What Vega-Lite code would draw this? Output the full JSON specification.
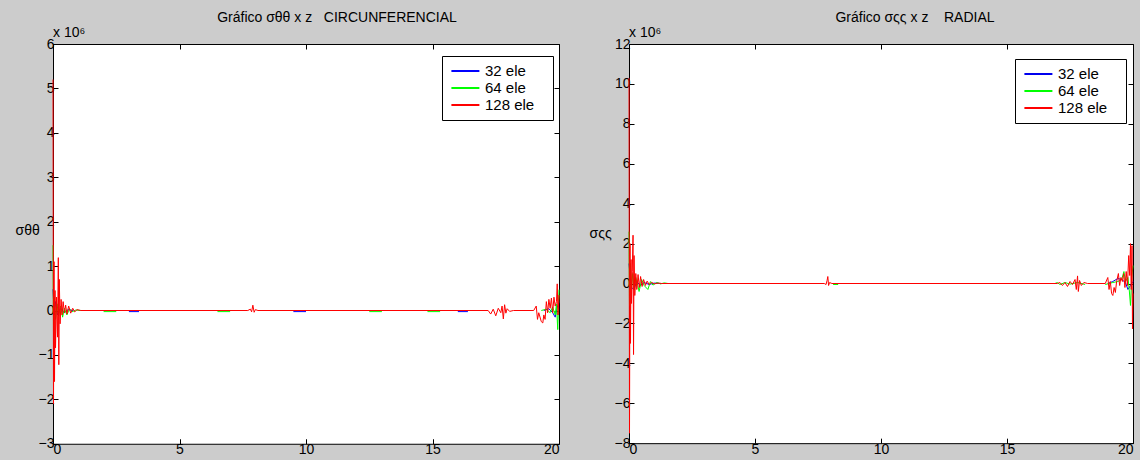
{
  "$schema": "https://vega.github.io/schema/vega-lite/v6.json",
  "background": "#cccccc",
  "padding": {"left": 14, "top": 10, "right": 4, "bottom": 2},
  "bounds": "flush",
  "spacing": 70,
  "config": {
    "view": {"fill": "white", "stroke": "black", "strokeWidth": 1},
    "font": "Liberation Sans",
    "axis": {"grid": false, "domain": false, "tickColor": "black", "tickSize": -5, "labelColor": "black", "labelFontSize": 14, "labelFont": "Liberation Sans", "titleFont": "Liberation Sans", "titleFontWeight": "normal", "titleColor": "black", "labelPadding": 4},
    "title": {"font": "Liberation Sans", "fontSize": 14, "fontWeight": "normal", "color": "black", "offset": 1},
    "legend": {"symbolType": "M-0.8,0H3.2", "symbolSize": 196, "symbolStrokeWidth": 2, "labelFont": "Liberation Sans", "labelFontSize": 15, "labelColor": "black", "labelOffset": 20, "rowPadding": 1, "padding": 7, "strokeColor": "black", "fillColor": "white", "title": null}
  },
  "datasets": {
    "circ": [
      {"z": 0, "s": 0.48, "serie": "32 ele", "seg": "a"}, {"z": 0.05, "s": -0.1, "serie": "32 ele", "seg": "a"}, {"z": 0.1, "s": 0.2, "serie": "32 ele", "seg": "a"}, {"z": 0.18, "s": -0.1, "serie": "32 ele", "seg": "a"}, {"z": 0.3, "s": 0.05, "serie": "32 ele", "seg": "a"}, {"z": 0.45, "s": -0.05, "serie": "32 ele", "seg": "a"}, {"z": 0.6, "s": 0.02, "serie": "32 ele", "seg": "a"}, {"z": 0.8, "s": 0, "serie": "32 ele", "seg": "a"},
      {"z": 3.0, "s": -0.025, "serie": "32 ele", "seg": "c"}, {"z": 3.4, "s": -0.025, "serie": "32 ele", "seg": "c"},
      {"z": 9.5, "s": -0.025, "serie": "32 ele", "seg": "d"}, {"z": 10.0, "s": -0.025, "serie": "32 ele", "seg": "d"},
      {"z": 16.0, "s": -0.025, "serie": "32 ele", "seg": "e"}, {"z": 16.4, "s": -0.025, "serie": "32 ele", "seg": "e"},
      {"z": 19.4, "s": 0, "serie": "32 ele", "seg": "b"}, {"z": 19.6, "s": 0.04, "serie": "32 ele", "seg": "b"}, {"z": 19.75, "s": -0.05, "serie": "32 ele", "seg": "b"}, {"z": 19.85, "s": -0.15, "serie": "32 ele", "seg": "b"}, {"z": 19.92, "s": 0.05, "serie": "32 ele", "seg": "b"}, {"z": 20, "s": 0.2, "serie": "32 ele", "seg": "b"},
      {"z": 0, "s": 1.47, "serie": "64 ele", "seg": "a"}, {"z": 0.02, "s": -0.5, "serie": "64 ele", "seg": "a"}, {"z": 0.05, "s": 0.3, "serie": "64 ele", "seg": "a"}, {"z": 0.1, "s": -0.2, "serie": "64 ele", "seg": "a"}, {"z": 0.16, "s": 0.15, "serie": "64 ele", "seg": "a"}, {"z": 0.22, "s": -0.12, "serie": "64 ele", "seg": "a"}, {"z": 0.3, "s": 0.1, "serie": "64 ele", "seg": "a"}, {"z": 0.38, "s": -0.15, "serie": "64 ele", "seg": "a"}, {"z": 0.45, "s": 0.05, "serie": "64 ele", "seg": "a"}, {"z": 0.55, "s": -0.1, "serie": "64 ele", "seg": "a"}, {"z": 0.65, "s": 0.04, "serie": "64 ele", "seg": "a"}, {"z": 0.75, "s": -0.03, "serie": "64 ele", "seg": "a"}, {"z": 0.9, "s": 0.01, "serie": "64 ele", "seg": "a"}, {"z": 1.1, "s": 0, "serie": "64 ele", "seg": "a"},
      {"z": 2.0, "s": -0.025, "serie": "64 ele", "seg": "c"}, {"z": 2.5, "s": -0.025, "serie": "64 ele", "seg": "c"},
      {"z": 6.5, "s": -0.025, "serie": "64 ele", "seg": "d"}, {"z": 7.0, "s": -0.025, "serie": "64 ele", "seg": "d"},
      {"z": 12.5, "s": -0.025, "serie": "64 ele", "seg": "e"}, {"z": 13.0, "s": -0.025, "serie": "64 ele", "seg": "e"},
      {"z": 14.8, "s": -0.025, "serie": "64 ele", "seg": "f"}, {"z": 15.3, "s": -0.025, "serie": "64 ele", "seg": "f"},
      {"z": 19.3, "s": 0, "serie": "64 ele", "seg": "b"}, {"z": 19.5, "s": 0.03, "serie": "64 ele", "seg": "b"}, {"z": 19.65, "s": -0.05, "serie": "64 ele", "seg": "b"}, {"z": 19.75, "s": 0.08, "serie": "64 ele", "seg": "b"}, {"z": 19.85, "s": -0.1, "serie": "64 ele", "seg": "b"}, {"z": 19.9, "s": 0.15, "serie": "64 ele", "seg": "b"}, {"z": 19.95, "s": -0.43, "serie": "64 ele", "seg": "b"}, {"z": 20, "s": 0.47, "serie": "64 ele", "seg": "b"},
      {"z": 0, "s": 5.2, "serie": "128 ele", "seg": "a"}, {"z": 0.02, "s": -2.1, "serie": "128 ele", "seg": "a"}, {"z": 0.04, "s": 1.1, "serie": "128 ele", "seg": "a"}, {"z": 0.06, "s": -1.6, "serie": "128 ele", "seg": "a"}, {"z": 0.08, "s": 0.45, "serie": "128 ele", "seg": "a"}, {"z": 0.1, "s": -0.84, "serie": "128 ele", "seg": "a"}, {"z": 0.14, "s": 0.3, "serie": "128 ele", "seg": "a"}, {"z": 0.18, "s": -0.6, "serie": "128 ele", "seg": "a"}, {"z": 0.21, "s": 1.19, "serie": "128 ele", "seg": "a"}, {"z": 0.23, "s": -1.22, "serie": "128 ele", "seg": "a"}, {"z": 0.25, "s": 0.7, "serie": "128 ele", "seg": "a"}, {"z": 0.28, "s": -0.3, "serie": "128 ele", "seg": "a"}, {"z": 0.32, "s": 0.25, "serie": "128 ele", "seg": "a"}, {"z": 0.36, "s": -0.1, "serie": "128 ele", "seg": "a"}, {"z": 0.4, "s": 0.2, "serie": "128 ele", "seg": "a"}, {"z": 0.45, "s": -0.05, "serie": "128 ele", "seg": "a"}, {"z": 0.5, "s": 0.12, "serie": "128 ele", "seg": "a"}, {"z": 0.55, "s": -0.08, "serie": "128 ele", "seg": "a"}, {"z": 0.62, "s": 0.1, "serie": "128 ele", "seg": "a"}, {"z": 0.7, "s": -0.06, "serie": "128 ele", "seg": "a"}, {"z": 0.78, "s": 0.05, "serie": "128 ele", "seg": "a"}, {"z": 0.86, "s": -0.03, "serie": "128 ele", "seg": "a"}, {"z": 0.95, "s": 0.02, "serie": "128 ele", "seg": "a"}, {"z": 1.1, "s": 0, "serie": "128 ele", "seg": "a"}, {"z": 7.7, "s": 0, "serie": "128 ele", "seg": "a"}, {"z": 7.8, "s": 0.03, "serie": "128 ele", "seg": "a"}, {"z": 7.85, "s": -0.03, "serie": "128 ele", "seg": "a"}, {"z": 7.9, "s": 0.12, "serie": "128 ele", "seg": "a"}, {"z": 7.95, "s": -0.04, "serie": "128 ele", "seg": "a"}, {"z": 8.0, "s": 0.02, "serie": "128 ele", "seg": "a"}, {"z": 8.1, "s": 0, "serie": "128 ele", "seg": "a"}, {"z": 17.2, "s": 0, "serie": "128 ele", "seg": "a"}, {"z": 17.3, "s": -0.08, "serie": "128 ele", "seg": "a"}, {"z": 17.4, "s": 0.03, "serie": "128 ele", "seg": "a"}, {"z": 17.5, "s": -0.12, "serie": "128 ele", "seg": "a"}, {"z": 17.6, "s": 0.05, "serie": "128 ele", "seg": "a"}, {"z": 17.7, "s": -0.05, "serie": "128 ele", "seg": "a"}, {"z": 17.75, "s": 0.1, "serie": "128 ele", "seg": "a"}, {"z": 17.8, "s": -0.19, "serie": "128 ele", "seg": "a"}, {"z": 17.85, "s": 0.13, "serie": "128 ele", "seg": "a"}, {"z": 17.9, "s": -0.06, "serie": "128 ele", "seg": "a"}, {"z": 17.95, "s": 0.04, "serie": "128 ele", "seg": "a"}, {"z": 18.05, "s": -0.02, "serie": "128 ele", "seg": "a"}, {"z": 18.2, "s": 0, "serie": "128 ele", "seg": "a"}, {"z": 19.0, "s": 0, "serie": "128 ele", "seg": "a"}, {"z": 19.1, "s": 0.1, "serie": "128 ele", "seg": "a"}, {"z": 19.15, "s": -0.2, "serie": "128 ele", "seg": "a"}, {"z": 19.2, "s": -0.05, "serie": "128 ele", "seg": "a"}, {"z": 19.3, "s": -0.25, "serie": "128 ele", "seg": "a"}, {"z": 19.36, "s": -0.28, "serie": "128 ele", "seg": "a"}, {"z": 19.4, "s": -0.1, "serie": "128 ele", "seg": "a"}, {"z": 19.45, "s": -0.2, "serie": "128 ele", "seg": "a"}, {"z": 19.5, "s": 0.2, "serie": "128 ele", "seg": "a"}, {"z": 19.55, "s": -0.05, "serie": "128 ele", "seg": "a"}, {"z": 19.6, "s": 0.25, "serie": "128 ele", "seg": "a"}, {"z": 19.65, "s": 0.05, "serie": "128 ele", "seg": "a"}, {"z": 19.7, "s": 0.28, "serie": "128 ele", "seg": "a"}, {"z": 19.75, "s": -0.05, "serie": "128 ele", "seg": "a"}, {"z": 19.8, "s": 0.3, "serie": "128 ele", "seg": "a"}, {"z": 19.85, "s": 0.1, "serie": "128 ele", "seg": "a"}, {"z": 19.9, "s": 0.2, "serie": "128 ele", "seg": "a"}, {"z": 19.93, "s": 0.6, "serie": "128 ele", "seg": "a"}, {"z": 19.96, "s": -0.1, "serie": "128 ele", "seg": "a"}, {"z": 20, "s": 0.35, "serie": "128 ele", "seg": "a"}
    ],
    "rad": [
      {"z": 0, "s": 1.0, "serie": "32 ele", "seg": "a"}, {"z": 0.05, "s": 0.3, "serie": "32 ele", "seg": "a"}, {"z": 0.1, "s": -0.2, "serie": "32 ele", "seg": "a"}, {"z": 0.2, "s": -0.3, "serie": "32 ele", "seg": "a"}, {"z": 0.3, "s": 0.1, "serie": "32 ele", "seg": "a"}, {"z": 0.45, "s": -0.1, "serie": "32 ele", "seg": "a"}, {"z": 0.6, "s": 0.05, "serie": "32 ele", "seg": "a"}, {"z": 0.8, "s": -0.05, "serie": "32 ele", "seg": "a"}, {"z": 1.0, "s": 0.02, "serie": "32 ele", "seg": "a"}, {"z": 1.3, "s": 0, "serie": "32 ele", "seg": "a"},
      {"z": 19.0, "s": 0, "serie": "32 ele", "seg": "b"}, {"z": 19.2, "s": 0.1, "serie": "32 ele", "seg": "b"}, {"z": 19.4, "s": 0.25, "serie": "32 ele", "seg": "b"}, {"z": 19.55, "s": 0.2, "serie": "32 ele", "seg": "b"}, {"z": 19.7, "s": 0.05, "serie": "32 ele", "seg": "b"}, {"z": 19.8, "s": -0.3, "serie": "32 ele", "seg": "b"}, {"z": 19.9, "s": -0.1, "serie": "32 ele", "seg": "b"}, {"z": 20, "s": 0.1, "serie": "32 ele", "seg": "b"},
      {"z": 0, "s": 2.6, "serie": "64 ele", "seg": "a"}, {"z": 0.02, "s": -1.1, "serie": "64 ele", "seg": "a"}, {"z": 0.05, "s": 1.0, "serie": "64 ele", "seg": "a"}, {"z": 0.1, "s": -0.2, "serie": "64 ele", "seg": "a"}, {"z": 0.15, "s": 0.5, "serie": "64 ele", "seg": "a"}, {"z": 0.2, "s": -0.3, "serie": "64 ele", "seg": "a"}, {"z": 0.27, "s": 0.3, "serie": "64 ele", "seg": "a"}, {"z": 0.35, "s": -0.1, "serie": "64 ele", "seg": "a"}, {"z": 0.4, "s": -0.4, "serie": "64 ele", "seg": "a"}, {"z": 0.5, "s": 0.2, "serie": "64 ele", "seg": "a"}, {"z": 0.6, "s": -0.1, "serie": "64 ele", "seg": "a"}, {"z": 0.75, "s": -0.3, "serie": "64 ele", "seg": "a"}, {"z": 0.85, "s": 0.1, "serie": "64 ele", "seg": "a"}, {"z": 0.95, "s": -0.08, "serie": "64 ele", "seg": "a"}, {"z": 1.1, "s": 0.05, "serie": "64 ele", "seg": "a"}, {"z": 1.25, "s": -0.02, "serie": "64 ele", "seg": "a"}, {"z": 1.4, "s": 0.03, "serie": "64 ele", "seg": "a"}, {"z": 1.55, "s": 0, "serie": "64 ele", "seg": "a"},
      {"z": 8.1, "s": -0.05, "serie": "64 ele", "seg": "d"}, {"z": 8.3, "s": -0.05, "serie": "64 ele", "seg": "d"},
      {"z": 16.9, "s": 0, "serie": "64 ele", "seg": "b"}, {"z": 17.0, "s": 0.05, "serie": "64 ele", "seg": "b"}, {"z": 17.1, "s": -0.05, "serie": "64 ele", "seg": "b"}, {"z": 17.3, "s": 0.05, "serie": "64 ele", "seg": "b"}, {"z": 17.5, "s": -0.03, "serie": "64 ele", "seg": "b"}, {"z": 17.8, "s": 0.05, "serie": "64 ele", "seg": "b"}, {"z": 18.1, "s": -0.05, "serie": "64 ele", "seg": "b"},
      {"z": 18.9, "s": -0.05, "serie": "64 ele", "seg": "c"}, {"z": 19.2, "s": 0.05, "serie": "64 ele", "seg": "c"}, {"z": 19.4, "s": 0.1, "serie": "64 ele", "seg": "c"}, {"z": 19.55, "s": 0.2, "serie": "64 ele", "seg": "c"}, {"z": 19.64, "s": 0.6, "serie": "64 ele", "seg": "c"}, {"z": 19.7, "s": 0.1, "serie": "64 ele", "seg": "c"}, {"z": 19.8, "s": 0.3, "serie": "64 ele", "seg": "c"}, {"z": 19.85, "s": -0.3, "serie": "64 ele", "seg": "c"}, {"z": 19.9, "s": -1.1, "serie": "64 ele", "seg": "c"}, {"z": 19.95, "s": 0.3, "serie": "64 ele", "seg": "c"}, {"z": 20, "s": 0.9, "serie": "64 ele", "seg": "c"},
      {"z": 0, "s": 10.3, "serie": "128 ele", "seg": "a"}, {"z": 0.02, "s": -7.5, "serie": "128 ele", "seg": "a"}, {"z": 0.04, "s": 2.0, "serie": "128 ele", "seg": "a"}, {"z": 0.06, "s": -3.0, "serie": "128 ele", "seg": "a"}, {"z": 0.08, "s": 1.2, "serie": "128 ele", "seg": "a"}, {"z": 0.1, "s": -1.0, "serie": "128 ele", "seg": "a"}, {"z": 0.13, "s": 0.6, "serie": "128 ele", "seg": "a"}, {"z": 0.16, "s": 2.42, "serie": "128 ele", "seg": "a"}, {"z": 0.18, "s": -3.56, "serie": "128 ele", "seg": "a"}, {"z": 0.2, "s": 1.4, "serie": "128 ele", "seg": "a"}, {"z": 0.23, "s": -0.6, "serie": "128 ele", "seg": "a"}, {"z": 0.27, "s": 0.5, "serie": "128 ele", "seg": "a"}, {"z": 0.31, "s": -0.3, "serie": "128 ele", "seg": "a"}, {"z": 0.36, "s": 0.45, "serie": "128 ele", "seg": "a"}, {"z": 0.41, "s": -0.2, "serie": "128 ele", "seg": "a"}, {"z": 0.46, "s": 0.35, "serie": "128 ele", "seg": "a"}, {"z": 0.52, "s": -0.15, "serie": "128 ele", "seg": "a"}, {"z": 0.58, "s": 0.2, "serie": "128 ele", "seg": "a"}, {"z": 0.65, "s": -0.1, "serie": "128 ele", "seg": "a"}, {"z": 0.72, "s": 0.12, "serie": "128 ele", "seg": "a"}, {"z": 0.8, "s": -0.05, "serie": "128 ele", "seg": "a"}, {"z": 0.9, "s": 0.06, "serie": "128 ele", "seg": "a"}, {"z": 1.0, "s": -0.02, "serie": "128 ele", "seg": "a"}, {"z": 1.15, "s": 0.02, "serie": "128 ele", "seg": "a"}, {"z": 1.3, "s": 0, "serie": "128 ele", "seg": "a"}, {"z": 7.75, "s": 0, "serie": "128 ele", "seg": "a"}, {"z": 7.82, "s": -0.05, "serie": "128 ele", "seg": "a"}, {"z": 7.86, "s": 0.15, "serie": "128 ele", "seg": "a"}, {"z": 7.89, "s": 0.35, "serie": "128 ele", "seg": "a"}, {"z": 7.92, "s": -0.1, "serie": "128 ele", "seg": "a"}, {"z": 7.96, "s": 0.05, "serie": "128 ele", "seg": "a"}, {"z": 8.05, "s": 0, "serie": "128 ele", "seg": "a"}, {"z": 17.0, "s": 0, "serie": "128 ele", "seg": "a"}, {"z": 17.1, "s": 0.05, "serie": "128 ele", "seg": "a"}, {"z": 17.2, "s": -0.1, "serie": "128 ele", "seg": "a"}, {"z": 17.3, "s": 0.05, "serie": "128 ele", "seg": "a"}, {"z": 17.4, "s": -0.15, "serie": "128 ele", "seg": "a"}, {"z": 17.5, "s": 0.1, "serie": "128 ele", "seg": "a"}, {"z": 17.6, "s": -0.05, "serie": "128 ele", "seg": "a"}, {"z": 17.7, "s": 0.2, "serie": "128 ele", "seg": "a"}, {"z": 17.75, "s": -0.3, "serie": "128 ele", "seg": "a"}, {"z": 17.8, "s": 0.38, "serie": "128 ele", "seg": "a"}, {"z": 17.83, "s": -0.4, "serie": "128 ele", "seg": "a"}, {"z": 17.88, "s": 0.15, "serie": "128 ele", "seg": "a"}, {"z": 17.95, "s": -0.1, "serie": "128 ele", "seg": "a"}, {"z": 18.05, "s": 0.05, "serie": "128 ele", "seg": "a"}, {"z": 18.2, "s": 0, "serie": "128 ele", "seg": "a"}, {"z": 18.9, "s": 0, "serie": "128 ele", "seg": "a"}, {"z": 19.0, "s": 0.3, "serie": "128 ele", "seg": "a"}, {"z": 19.05, "s": -0.3, "serie": "128 ele", "seg": "a"}, {"z": 19.1, "s": 0.1, "serie": "128 ele", "seg": "a"}, {"z": 19.15, "s": -0.5, "serie": "128 ele", "seg": "a"}, {"z": 19.2, "s": -0.6, "serie": "128 ele", "seg": "a"}, {"z": 19.25, "s": -0.2, "serie": "128 ele", "seg": "a"}, {"z": 19.3, "s": -0.45, "serie": "128 ele", "seg": "a"}, {"z": 19.35, "s": 0.1, "serie": "128 ele", "seg": "a"}, {"z": 19.42, "s": 0.5, "serie": "128 ele", "seg": "a"}, {"z": 19.47, "s": -0.1, "serie": "128 ele", "seg": "a"}, {"z": 19.52, "s": 0.3, "serie": "128 ele", "seg": "a"}, {"z": 19.58, "s": 0.1, "serie": "128 ele", "seg": "a"}, {"z": 19.63, "s": 0.5, "serie": "128 ele", "seg": "a"}, {"z": 19.68, "s": -0.2, "serie": "128 ele", "seg": "a"}, {"z": 19.73, "s": 0.6, "serie": "128 ele", "seg": "a"}, {"z": 19.78, "s": -0.1, "serie": "128 ele", "seg": "a"}, {"z": 19.83, "s": 1.4, "serie": "128 ele", "seg": "a"}, {"z": 19.87, "s": 0.4, "serie": "128 ele", "seg": "a"}, {"z": 19.9, "s": 2.0, "serie": "128 ele", "seg": "a"}, {"z": 19.93, "s": -0.3, "serie": "128 ele", "seg": "a"}, {"z": 19.96, "s": 1.9, "serie": "128 ele", "seg": "a"}, {"z": 19.98, "s": -2.27, "serie": "128 ele", "seg": "a"}, {"z": 20, "s": -0.5, "serie": "128 ele", "seg": "a"}
    ]
  },
  "hconcat": [
    {
      "width": 506,
      "height": 399.75,
      "title": {"text": "Gráfico σθθ x z\u00a0\u00a0\u00a0CIRCUNFERENCIAL", "dx": 31},
      "layer": [
        {
          "data": {"name": "circ"},
          "mark": {"type": "line", "strokeWidth": 1, "clip": false},
          "encoding": {
            "x": {"field": "z", "type": "quantitative", "scale": {"domain": [0, 20], "nice": false, "zero": false}, "axis": {"orient": "bottom", "values": [0, 5, 10, 15, 20], "title": null}},
            "y": {"field": "s", "type": "quantitative", "scale": {"domain": [-3, 6], "nice": false}, "axis": {"orient": "left", "values": [-3, -2, -1, 0, 1, 2, 3, 4, 5, 6], "title": "σθθ", "titleAngle": 0, "titleX": -38, "titleY": 190, "titleAlign": "left", "titleBaseline": "alphabetic", "titleFontSize": 14}},
            "detail": {"field": "seg", "type": "nominal"},
            "color": {"field": "serie", "type": "nominal", "sort": ["32 ele", "64 ele", "128 ele"], "scale": {"domain": ["32 ele", "64 ele", "128 ele"], "range": ["#0000ff", "#00ff00", "#ff0000"]}, "legend": {"orient": "none", "legendX": 389, "legendY": 12, "labelExpr": "datum.label + '\u2800'"}}
          }
        },
        {
          "data": {"values": [{}]},
          "mark": {"type": "text", "align": "left", "baseline": "bottom", "dy": -4, "fontSize": 14, "font": "Liberation Sans", "color": "black"},
          "encoding": {
            "x": {"datum": 0, "type": "quantitative", "axis": {"orient": "top", "values": [0, 5, 10, 15, 20], "labels": false, "title": null}},
            "y": {"datum": 6, "type": "quantitative", "axis": {"orient": "right", "values": [-3, -2, -1, 0, 1, 2, 3, 4, 5, 6], "labels": false, "title": null}},
            "text": {"value": "x 10⁶"}
          }
        }
      ],
      "resolve": {"axis": {"x": "independent", "y": "independent"}}
    },
    {
      "width": 504,
      "height": 399.17,
      "title": {"text": "Gráfico σςς x z\u00a0\u00a0\u00a0\u00a0RADIAL", "dx": 34},
      "layer": [
        {
          "data": {"name": "rad"},
          "mark": {"type": "line", "strokeWidth": 1, "clip": false},
          "encoding": {
            "x": {"field": "z", "type": "quantitative", "scale": {"domain": [0, 20], "nice": false, "zero": false}, "axis": {"orient": "bottom", "values": [0, 5, 10, 15, 20], "title": null}},
            "y": {"field": "s", "type": "quantitative", "scale": {"domain": [-8, 12], "nice": false}, "axis": {"orient": "left", "values": [-8, -6, -4, -2, 0, 2, 4, 6, 8, 10, 12], "title": "σςς", "titleAngle": 0, "titleX": -40, "titleY": 193, "titleAlign": "left", "titleBaseline": "alphabetic", "titleFontSize": 14}},
            "detail": {"field": "seg", "type": "nominal"},
            "color": {"field": "serie", "type": "nominal", "sort": ["32 ele", "64 ele", "128 ele"], "scale": {"domain": ["32 ele", "64 ele", "128 ele"], "range": ["#0000ee", "#00ff00", "#ff0000"]}, "legend": {"orient": "none", "legendX": 386, "legendY": 15, "labelExpr": "datum.label + '\u2800'"}}
          }
        },
        {
          "data": {"values": [{}]},
          "mark": {"type": "text", "align": "left", "baseline": "bottom", "dy": -4, "fontSize": 14, "font": "Liberation Sans", "color": "black"},
          "encoding": {
            "x": {"datum": 0, "type": "quantitative", "axis": {"orient": "top", "values": [0, 5, 10, 15, 20], "labels": false, "title": null}},
            "y": {"datum": 12, "type": "quantitative", "axis": {"orient": "right", "values": [-8, -6, -4, -2, 0, 2, 4, 6, 8, 10, 12], "labels": false, "title": null}},
            "text": {"value": "x 10⁶"}
          }
        }
      ],
      "resolve": {"axis": {"x": "independent", "y": "independent"}}
    }
  ],
  "resolve": {"scale": {"color": "independent"}, "legend": {"color": "independent"}}
}
